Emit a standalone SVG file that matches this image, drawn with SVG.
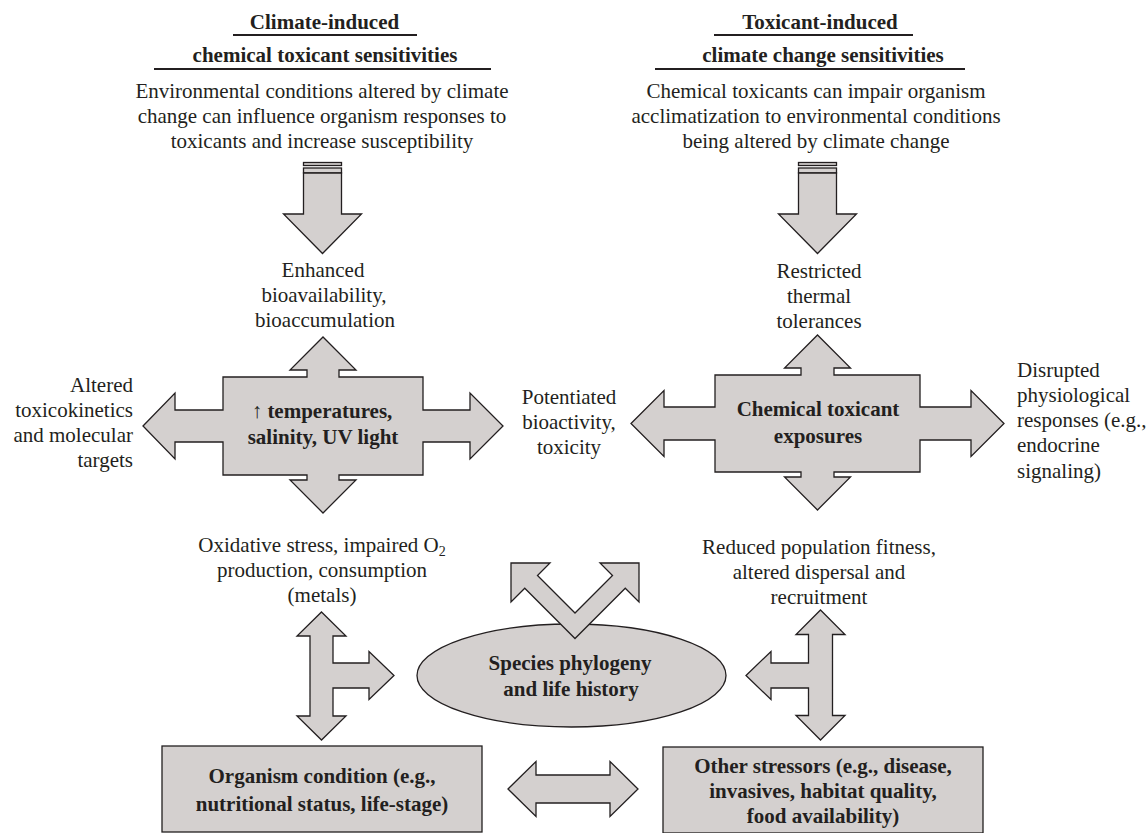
<svg xmlns="http://www.w3.org/2000/svg" width="1148" height="833" viewBox="0 0 1148 833">
<style>
.s{fill:#d4d0cf;stroke:#231f20;stroke-width:1.3;stroke-linejoin:miter}
.t{font-family:"Liberation Serif","Times New Roman",serif;font-size:21px;fill:#231f20}
.b{font-weight:bold}
.c{text-anchor:middle}
.r{text-anchor:end}
.u{stroke:#231f20;stroke-width:2}
</style>
<rect width="1148" height="833" fill="#fff"/>

<g id="heading-left">
<text class="t b c" x="324.5" y="29">Climate-induced</text>
<line class="u" x1="233" y1="35" x2="417" y2="35"/>
<text class="t b c" x="325" y="62">chemical toxicant sensitivities</text>
<line class="u" x1="154" y1="69" x2="491" y2="69"/>
<text class="t c" x="322" y="98">Environmental conditions altered by climate</text>
<text class="t c" x="322" y="123">change can influence organism responses to</text>
<text class="t c" x="322" y="148">toxicants and increase susceptibility</text>
</g>

<g id="heading-right">
<text class="t b c" x="820" y="29">Toxicant-induced</text>
<line class="u" x1="714" y1="35" x2="913" y2="35"/>
<text class="t b c" x="823" y="62">climate change sensitivities</text>
<line class="u" x1="655" y1="69" x2="965" y2="69"/>
<text class="t c" x="816" y="98">Chemical toxicants can impair organism</text>
<text class="t c" x="816" y="123">acclimatization to environmental conditions</text>
<text class="t c" x="816" y="148">being altered by climate change</text>
</g>

<g id="connectors">
<g id="down-left">
<rect class="s" x="303.5" y="162.5" width="38" height="3"/>
<rect class="s" x="303.5" y="168" width="38" height="5"/>
<path class="s" d="M303.5,173 L341.5,173 L341.5,214 L361.5,214 L322.5,253.5 L283.5,214 L303.5,214 Z"/>
</g>
<g id="down-right">
<rect class="s" x="798.5" y="162.5" width="38" height="3"/>
<rect class="s" x="798.5" y="168" width="38" height="5"/>
<path class="s" d="M798.5,173 L836.5,173 L836.5,214 L856.5,214 L817.5,253.5 L778.5,214 L798.5,214 Z"/>
</g>
<path id="t-left" class="s" d="M321.5,612 L346,636 L333,636 L333,663 L369,663 L369,651.5 L394,675.5 L369,699.5 L369,688 L333,688 L333,716 L346,716 L321.5,740 L297,716 L310,716 L310,636 L297,636 Z"/>
<path id="t-right" class="s" d="M820.5,610 L845,634.5 L832.5,634.5 L832.5,715.5 L845,715.5 L820.5,740 L796,715.5 L808.5,715.5 L808.5,688 L771,688 L771,699.5 L746,675.5 L771,651.5 L771,663 L808.5,663 L808.5,634.5 L796,634.5 Z"/>
<path id="h-arrow" class="s" d="M508,789 L536,761.5 L536,775 L610,775 L610,761.5 L638,789 L610,816.5 L610,803 L536,803 L536,816.5 Z"/>
</g>

<g id="node-temperatures">
<path class="s" d="M143,426 L175,393 L175,410 L223,410 L223,377 L307,377 L307,370 L290,370 L323,337 L356,370 L339,370 L339,377 L423,377 L423,410 L470,410 L470,393 L503,426 L470,459 L470,442 L423,442 L423,475 L339,475 L339,480 L356,480 L323,513 L290,480 L307,480 L307,475 L223,475 L223,442 L175,442 L175,459 Z"/>
<text class="t b c" x="322" y="418">↑ temperatures,</text>
<text class="t b c" x="323" y="444">salinity, UV light</text>
</g>

<g id="node-chemical">
<path class="s" d="M631,423.5 L664,390.5 L664,407 L715,407 L715,375 L801,375 L801,368 L784.5,368 L817.5,335 L850.5,368 L834,368 L834,375 L920,375 L920,407 L971,407 L971,390.5 L1004,423.5 L971,456.5 L971,440 L920,440 L920,472 L834,472 L834,477 L850.5,477 L817.5,510 L784.5,477 L801,477 L801,472 L715,472 L715,440 L664,440 L664,456.5 Z"/>
<text class="t b c" x="818" y="416">Chemical toxicant</text>
<text class="t b c" x="818" y="443">exposures</text>
</g>

<g id="labels-left">
<text class="t c" x="323" y="277">Enhanced</text>
<text class="t c" x="324" y="302">bioavailability,</text>
<text class="t c" x="325" y="327">bioaccumulation</text>
<text class="t r" x="133" y="392">Altered</text>
<text class="t r" x="133" y="417">toxicokinetics</text>
<text class="t r" x="133" y="442">and molecular</text>
<text class="t r" x="133" y="467">targets</text>
<text class="t c" x="569" y="404">Potentiated</text>
<text class="t c" x="569" y="429">bioactivity,</text>
<text class="t c" x="569" y="454">toxicity</text>
<text class="t c" x="322" y="552">Oxidative stress, impaired O<tspan font-size="14" dy="4">2</tspan></text>
<text class="t c" x="322" y="577">production, consumption</text>
<text class="t c" x="322" y="602">(metals)</text>
</g>

<g id="labels-right">
<text class="t c" x="819" y="278">Restricted</text>
<text class="t c" x="819" y="303">thermal</text>
<text class="t c" x="819" y="328">tolerances</text>
<text class="t" x="1017" y="377">Disrupted</text>
<text class="t" x="1017" y="402">physiological</text>
<text class="t" x="1017" y="427">responses (e.g.,</text>
<text class="t" x="1017" y="452">endocrine</text>
<text class="t" x="1017" y="478">signaling)</text>
<text class="t c" x="819" y="554">Reduced population fitness,</text>
<text class="t c" x="819" y="579">altered dispersal and</text>
<text class="t c" x="819" y="604">recruitment</text>
</g>

<g id="node-species">
<ellipse class="s" cx="571.5" cy="675.5" rx="154.5" ry="51.5"/>
<path class="s" d="M511,563 L550,563 L537.5,575.5 L575,613 L612.5,575.5 L600,563 L639,563 L639,602 L625.25,588.25 L575,638.5 L524.75,588.25 L511,602 Z"/>
<text class="t b c" x="570" y="670">Species phylogeny</text>
<text class="t b c" x="571" y="696">and life history</text>
</g>

<g id="node-organism">
<rect class="s" x="162" y="746" width="320" height="86"/>
<text class="t b c" x="322" y="783">Organism condition (e.g.,</text>
<text class="t b c" x="322" y="811">nutritional status, life-stage)</text>
</g>

<g id="node-other">
<rect class="s" x="663" y="747" width="320" height="86"/>
<text class="t b c" x="823" y="773">Other stressors (e.g., disease,</text>
<text class="t b c" x="823" y="798">invasives, habitat quality,</text>
<text class="t b c" x="823" y="823">food availability)</text>
</g>
</svg>
